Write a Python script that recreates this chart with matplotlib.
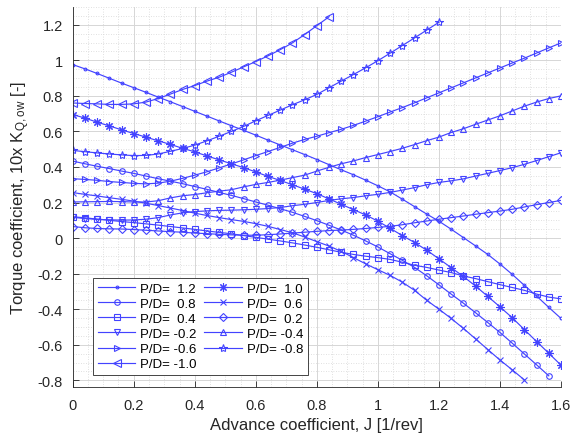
import matplotlib
matplotlib.use('Agg')
import matplotlib.pyplot as plt
from matplotlib.ticker import MultipleLocator

# advance coefficient J, one marker every 0.04
J = [0.0, 0.04, 0.08, 0.12, 0.16, 0.2, 0.24, 0.28, 0.32, 0.36,
     0.4, 0.44, 0.48, 0.52, 0.56, 0.6, 0.64, 0.68, 0.72, 0.76,
     0.8, 0.84, 0.88, 0.92, 0.96, 1.0, 1.04, 1.08, 1.12, 1.16,
     1.2, 1.24, 1.28, 1.32, 1.36, 1.4, 1.44, 1.48, 1.52, 1.56, 1.6]

# 10x KQ,ow, one list per pitch ratio
kq_p12 = [0.976, 0.952, 0.926, 0.899, 0.872, 0.846, 0.82, 0.793, 0.767, 0.74,
          0.713, 0.686, 0.659, 0.632, 0.606, 0.579, 0.551, 0.524, 0.497, 0.47,
          0.442, 0.413, 0.384, 0.356, 0.326, 0.294, 0.26, 0.219, 0.177, 0.135,
          0.095, 0.05, 0.003, -0.044, -0.092, -0.146, -0.204, -0.266, -0.326, -0.39, -0.452]
kq_p10 = [0.695, 0.675, 0.652, 0.631, 0.609, 0.588, 0.568, 0.547, 0.527, 0.505,
          0.485, 0.462, 0.44, 0.418, 0.396, 0.372, 0.347, 0.324, 0.3, 0.275,
          0.25, 0.22, 0.19, 0.16, 0.13, 0.095, 0.055, 0.014, -0.025, -0.068,
          -0.117, -0.166, -0.216, -0.27, -0.328, -0.387, -0.448, -0.515, -0.582, -0.648, -0.715]
kq_p08 = [0.433, 0.418, 0.404, 0.391, 0.377, 0.364, 0.349, 0.334, 0.32, 0.306,
          0.29, 0.274, 0.257, 0.24, 0.222, 0.203, 0.185, 0.165, 0.145, 0.122,
          0.098, 0.072, 0.045, 0.016, -0.016, -0.05, -0.088, -0.125, -0.165, -0.212,
          -0.263, -0.315, -0.366, -0.42, -0.475, -0.531, -0.591, -0.652, -0.713, -0.775]
kq_p06 = [0.256, 0.246, 0.237, 0.227, 0.218, 0.208, 0.196, 0.183, 0.169, 0.155,
          0.14, 0.127, 0.115, 0.104, 0.094, 0.081, 0.066, 0.048, 0.03, 0.006,
          -0.02, -0.045, -0.075, -0.11, -0.145, -0.178, -0.21, -0.248, -0.294, -0.35,
          -0.4, -0.452, -0.508, -0.567, -0.627, -0.686, -0.741, -0.798]
kq_p04 = [0.12, 0.114, 0.107, 0.1, 0.093, 0.087, 0.08, 0.073, 0.065, 0.057,
          0.049, 0.04, 0.032, 0.024, 0.014, 0.004, -0.006, -0.016, -0.027, -0.039,
          -0.052, -0.066, -0.08, -0.092, -0.102, -0.11, -0.12, -0.136, -0.153, -0.165,
          -0.18, -0.194, -0.213, -0.228, -0.245, -0.262, -0.278, -0.294, -0.315, -0.332, -0.342]
kq_p02 = [0.065, 0.058, 0.054, 0.052, 0.051, 0.048, 0.044, 0.04, 0.036, 0.033,
          0.028, 0.025, 0.021, 0.018, 0.016, 0.016, 0.019, 0.023, 0.028, 0.033,
          0.038, 0.042, 0.045, 0.049, 0.054, 0.06, 0.066, 0.075, 0.086, 0.096,
          0.106, 0.115, 0.124, 0.134, 0.143, 0.152, 0.162, 0.175, 0.188, 0.2, 0.212]
kq_m02 = [0.117, 0.11, 0.105, 0.103, 0.101, 0.102, 0.106, 0.115, 0.13, 0.142,
          0.149, 0.153, 0.156, 0.157, 0.159, 0.162, 0.166, 0.172, 0.182, 0.19,
          0.2, 0.212, 0.221, 0.228, 0.238, 0.246, 0.257, 0.27, 0.284, 0.3,
          0.313, 0.322, 0.333, 0.349, 0.364, 0.38, 0.396, 0.415, 0.436, 0.458, 0.48]
kq_m04 = [0.203, 0.204, 0.205, 0.206, 0.205, 0.203, 0.203, 0.21, 0.226, 0.238,
          0.245, 0.255, 0.264, 0.272, 0.288, 0.302, 0.313, 0.326, 0.34, 0.354,
          0.377, 0.398, 0.418, 0.434, 0.453, 0.47, 0.487, 0.505, 0.526, 0.548,
          0.568, 0.594, 0.615, 0.64, 0.664, 0.688, 0.715, 0.742, 0.765, 0.785, 0.8]
kq_m06 = [0.334, 0.33, 0.325, 0.318, 0.313, 0.308, 0.305, 0.309, 0.32, 0.336,
          0.354, 0.373, 0.395, 0.417, 0.44, 0.464, 0.487, 0.51, 0.534, 0.555,
          0.573, 0.593, 0.612, 0.634, 0.658, 0.683, 0.709, 0.734, 0.761, 0.789,
          0.817, 0.845, 0.873, 0.901, 0.929, 0.957, 0.985, 1.012, 1.041, 1.07, 1.098]
kq_m08 = [0.493, 0.486, 0.479, 0.473, 0.468, 0.464, 0.465, 0.473, 0.488, 0.504,
          0.523, 0.547, 0.573, 0.6, 0.628, 0.66, 0.69, 0.72, 0.75, 0.778,
          0.808, 0.846, 0.883, 0.92, 0.958, 0.998, 1.04, 1.083, 1.126, 1.17, 1.214]
kq_m10 = [0.76, 0.757, 0.755, 0.752, 0.752, 0.755, 0.765, 0.785, 0.81, 0.836,
          0.858, 0.883, 0.905, 0.933, 0.963, 0.993, 1.025, 1.06, 1.098, 1.145,
          1.195, 1.245]

labels = ['P/D=  1.2', 'P/D=  1.0', 'P/D=  0.8', 'P/D=  0.6', 'P/D=  0.4', 'P/D=  0.2',
          'P/D= -0.2', 'P/D= -0.4', 'P/D= -0.6', 'P/D= -0.8', 'P/D= -1.0']
series = [kq_p12, kq_p10, kq_p08, kq_p06, kq_p04, kq_p02,
          kq_m02, kq_m04, kq_m06, kq_m08, kq_m10]
markers = ['.', (8, 2, 0), 'o', 'x', 's', 'D', 'v', '^', '>', '*', '<']
msizes = [4, 6, 4, 4.5, 4, 4, 5, 5, 5, 6, 5.5]

blue = '#4343ff'
txt = '#262626'


def main():
    plt.rcParams['font.family'] = ['Liberation Sans', 'DejaVu Sans']
    plt.rcParams['mathtext.default'] = 'regular'

    fig = plt.figure(figsize=(5.78, 4.39), dpi=100)
    ax = fig.add_axes([0.1258, 0.1169, 0.8448, 0.8649])

    handles = []
    for vals, lab, mk, ms in zip(series, labels, markers, msizes):
        h, = ax.plot(J[:len(vals)], vals, color=blue, lw=0.85, marker=mk, ms=ms,
                     mfc='none', mec=blue, mew=0.8, label=lab)
        handles.append(h)

    ax.set_xlim(0, 1.6)
    ax.set_ylim(-0.836, 1.3)
    ax.set_xticks([0, 0.2, 0.4, 0.6, 0.8, 1.0, 1.2, 1.4, 1.6])
    ax.set_xticklabels(['0', '0.2', '0.4', '0.6', '0.8', '1', '1.2', '1.4', '1.6'])
    ax.set_yticks([-0.8, -0.6, -0.4, -0.2, 0, 0.2, 0.4, 0.6, 0.8, 1.0, 1.2])
    ax.set_yticklabels(['-0.8', '-0.6', '-0.4', '-0.2', '0', '0.2', '0.4', '0.6', '0.8', '1', '1.2'])
    ax.xaxis.set_minor_locator(MultipleLocator(0.05))
    ax.yaxis.set_minor_locator(MultipleLocator(0.05))

    ax.grid(which='major', color='#d6d6d6', lw=0.7, ls='-')
    ax.grid(which='minor', color='#d6d6d6', lw=0.6, ls=(0, (1, 2)))
    ax.set_axisbelow(True)

    for s in ['top', 'right']:
        ax.spines[s].set_visible(False)
    for s in ['left', 'bottom']:
        ax.spines[s].set_color(txt)
        ax.spines[s].set_linewidth(0.6)
    ax.tick_params(which='major', direction='in', length=4, width=0.6, color=txt,
                   labelcolor=txt, labelsize=10.5)
    ax.tick_params(axis='x', which='major', pad=8)
    ax.tick_params(axis='y', which='major', pad=7)
    ax.tick_params(which='minor', length=0)

    ax.set_xlabel('Advance coefficient, J [1/rev]', fontsize=12, color=txt, labelpad=4)
    ax.set_ylabel('Torque coefficient, 10x K$_{Q,ow}$ [-]', fontsize=12, color=txt, labelpad=4)

    # legend fills column-first, reorder so rows read 1.2/1.0, 0.8/0.6, ...
    order = [0, 2, 4, 6, 8, 10, 1, 3, 5, 7, 9]
    leg = ax.legend([handles[i] for i in order], [labels[i] for i in order],
                    ncol=2, loc='lower left', bbox_to_anchor=(0.042, 0.031),
                    borderaxespad=0, fontsize=9.5, numpoints=1, handlelength=2.85,
                    handletextpad=0.35, columnspacing=0.6, labelspacing=0.22,
                    borderpad=0.35, fancybox=False, framealpha=1, edgecolor=txt)
    leg.get_frame().set_linewidth(0.6)

    fig.savefig('out.png', dpi=100)


if __name__ == "__main__":
    main()
